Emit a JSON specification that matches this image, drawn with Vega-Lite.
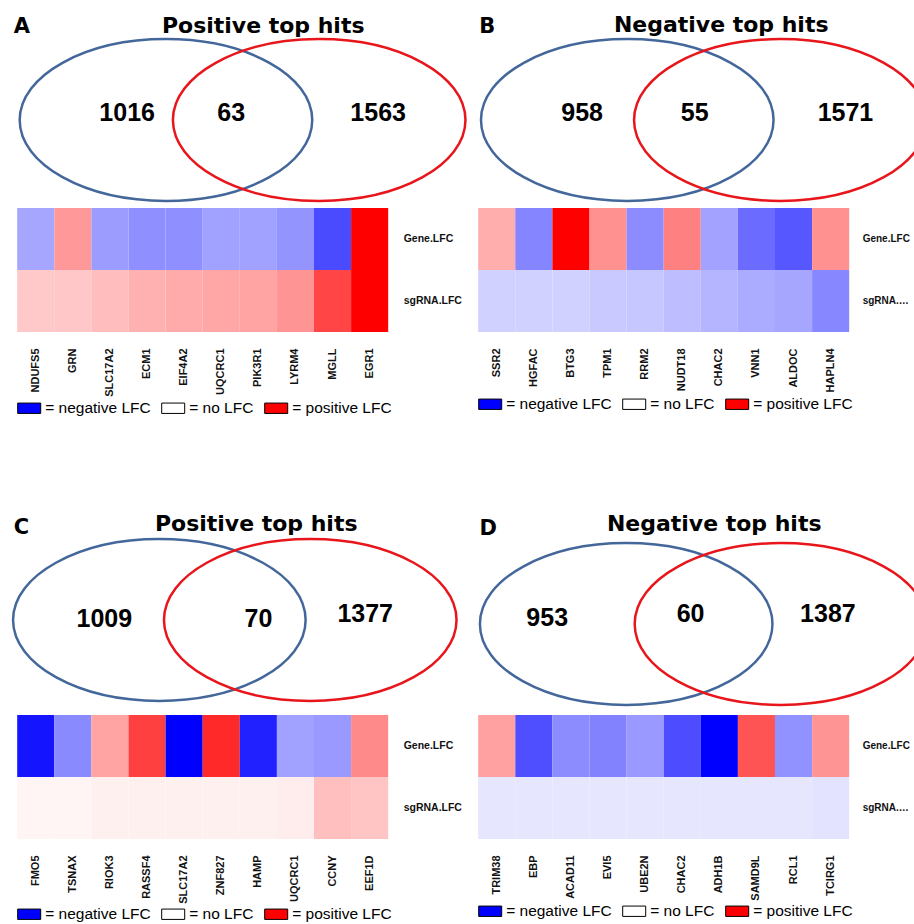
{
  "$schema": "https://vega.github.io/schema/vega-lite/v6.json",
  "background": "white",
  "padding": {"top": 0, "left": 7.2, "right": 0, "bottom": 0},
  "config": {
    "view": {"stroke": null},
    "font": "Liberation Sans",
    "title": {"font": "DejaVu Sans", "fontWeight": "bold", "color": "#000", "baseline": "bottom", "fontSize": 22, "anchor": "middle", "frame": "group"},
    "axis": {"labelFont": "Liberation Sans", "labelFontWeight": "bold", "labelColor": "#111", "ticks": false, "tickSize": 0, "domain": false, "grid": false, "title": null, "labelOverlap": false, "titleFont": "DejaVu Sans", "titleFontSize": 21, "titleFontWeight": "bold", "titleColor": "#000"},
    "legend": {"labelFont": "Liberation Sans"}
  },
  "datasets": {
    "vennSets": [
      {"panel": "A", "set": "Set 1", "x": 0.966, "y": 0.4118},
      {"panel": "A", "set": "Set 2", "x": 1.961, "y": 0.4118},
      {"panel": "B", "set": "Set 1", "x": 0.968, "y": 0.4118},
      {"panel": "B", "set": "Set 2", "x": 1.962, "y": 0.4118},
      {"panel": "C", "set": "Set 1", "x": 0.923, "y": 0.2417},
      {"panel": "C", "set": "Set 2", "x": 1.903, "y": 0.2417},
      {"panel": "D", "set": "Set 1", "x": 0.961, "y": 0.231},
      {"panel": "D", "set": "Set 2", "x": 1.966, "y": 0.231}
    ],
    "vennCounts": [
      {"panel": "A", "region": "Set 1 only", "count": 1016, "x": 0.714, "y": 0.4485},
      {"panel": "A", "region": "Both", "count": 63, "x": 1.390, "y": 0.4485},
      {"panel": "A", "region": "Set 2 only", "count": 1563, "x": 2.344, "y": 0.4485},
      {"panel": "B", "region": "Set 1 only", "count": 958, "x": 0.675, "y": 0.4485},
      {"panel": "B", "region": "Both", "count": 55, "x": 1.406, "y": 0.4485},
      {"panel": "B", "region": "Set 2 only", "count": 1571, "x": 2.385, "y": 0.4485},
      {"panel": "C", "region": "Set 1 only", "count": 1009, "x": 0.566, "y": 0.2443},
      {"panel": "C", "region": "Both", "count": 70, "x": 1.567, "y": 0.2443},
      {"panel": "C", "region": "Set 2 only", "count": 1377, "x": 2.26, "y": 0.2577},
      {"panel": "D", "region": "Set 1 only", "count": 953, "x": 0.448, "y": 0.2483},
      {"panel": "D", "region": "Both", "count": 60, "x": 1.379, "y": 0.2577},
      {"panel": "D", "region": "Set 2 only", "count": 1387, "x": 2.271, "y": 0.2577}
    ],
    "heat": [
      {"panel": "A", "gene": "NDUFS5", "metric": "Gene.LFC", "value": -0.35},
      {"panel": "A", "gene": "GRN", "metric": "Gene.LFC", "value": 0.4},
      {"panel": "A", "gene": "SLC17A2", "metric": "Gene.LFC", "value": -0.39},
      {"panel": "A", "gene": "ECM1", "metric": "Gene.LFC", "value": -0.44},
      {"panel": "A", "gene": "EIF4A2", "metric": "Gene.LFC", "value": -0.44},
      {"panel": "A", "gene": "UQCRC1", "metric": "Gene.LFC", "value": -0.37},
      {"panel": "A", "gene": "PIK3R1", "metric": "Gene.LFC", "value": -0.37},
      {"panel": "A", "gene": "LYRM4", "metric": "Gene.LFC", "value": -0.42},
      {"panel": "A", "gene": "MGLL", "metric": "Gene.LFC", "value": -0.71},
      {"panel": "A", "gene": "EGR1", "metric": "Gene.LFC", "value": 1.0},
      {"panel": "A", "gene": "NDUFS5", "metric": "sgRNA.LFC", "value": 0.21},
      {"panel": "A", "gene": "GRN", "metric": "sgRNA.LFC", "value": 0.22},
      {"panel": "A", "gene": "SLC17A2", "metric": "sgRNA.LFC", "value": 0.26},
      {"panel": "A", "gene": "ECM1", "metric": "sgRNA.LFC", "value": 0.31},
      {"panel": "A", "gene": "EIF4A2", "metric": "sgRNA.LFC", "value": 0.33},
      {"panel": "A", "gene": "UQCRC1", "metric": "sgRNA.LFC", "value": 0.35},
      {"panel": "A", "gene": "PIK3R1", "metric": "sgRNA.LFC", "value": 0.36},
      {"panel": "A", "gene": "LYRM4", "metric": "sgRNA.LFC", "value": 0.42},
      {"panel": "A", "gene": "MGLL", "metric": "sgRNA.LFC", "value": 0.73},
      {"panel": "A", "gene": "EGR1", "metric": "sgRNA.LFC", "value": 1.0},
      {"panel": "B", "gene": "SSR2", "metric": "Gene.LFC", "value": 0.32},
      {"panel": "B", "gene": "HGFAC", "metric": "Gene.LFC", "value": -0.48},
      {"panel": "B", "gene": "BTG3", "metric": "Gene.LFC", "value": 1.0},
      {"panel": "B", "gene": "TPM1", "metric": "Gene.LFC", "value": 0.43},
      {"panel": "B", "gene": "RRM2", "metric": "Gene.LFC", "value": -0.45},
      {"panel": "B", "gene": "NUDT18", "metric": "Gene.LFC", "value": 0.5},
      {"panel": "B", "gene": "CHAC2", "metric": "Gene.LFC", "value": -0.36},
      {"panel": "B", "gene": "VNN1", "metric": "Gene.LFC", "value": -0.58},
      {"panel": "B", "gene": "ALDOC", "metric": "Gene.LFC", "value": -0.66},
      {"panel": "B", "gene": "HAPLN4", "metric": "Gene.LFC", "value": 0.43},
      {"panel": "B", "gene": "SSR2", "metric": "sgRNA.LFC", "value": -0.18},
      {"panel": "B", "gene": "HGFAC", "metric": "sgRNA.LFC", "value": -0.18},
      {"panel": "B", "gene": "BTG3", "metric": "sgRNA.LFC", "value": -0.18},
      {"panel": "B", "gene": "TPM1", "metric": "sgRNA.LFC", "value": -0.21},
      {"panel": "B", "gene": "RRM2", "metric": "sgRNA.LFC", "value": -0.22},
      {"panel": "B", "gene": "NUDT18", "metric": "sgRNA.LFC", "value": -0.26},
      {"panel": "B", "gene": "CHAC2", "metric": "sgRNA.LFC", "value": -0.29},
      {"panel": "B", "gene": "VNN1", "metric": "sgRNA.LFC", "value": -0.33},
      {"panel": "B", "gene": "ALDOC", "metric": "sgRNA.LFC", "value": -0.35},
      {"panel": "B", "gene": "HAPLN4", "metric": "sgRNA.LFC", "value": -0.47},
      {"panel": "C", "gene": "FMO5", "metric": "Gene.LFC", "value": -0.92},
      {"panel": "C", "gene": "TSNAX", "metric": "Gene.LFC", "value": -0.46},
      {"panel": "C", "gene": "RIOK3", "metric": "Gene.LFC", "value": 0.36},
      {"panel": "C", "gene": "RASSF4", "metric": "Gene.LFC", "value": 0.75},
      {"panel": "C", "gene": "SLC17A2", "metric": "Gene.LFC", "value": -1.0},
      {"panel": "C", "gene": "ZNF827", "metric": "Gene.LFC", "value": 0.84},
      {"panel": "C", "gene": "HAMP", "metric": "Gene.LFC", "value": -0.87},
      {"panel": "C", "gene": "UQCRC1", "metric": "Gene.LFC", "value": -0.37},
      {"panel": "C", "gene": "CCNY", "metric": "Gene.LFC", "value": -0.4},
      {"panel": "C", "gene": "EEF1D", "metric": "Gene.LFC", "value": 0.46},
      {"panel": "C", "gene": "FMO5", "metric": "sgRNA.LFC", "value": 0.04},
      {"panel": "C", "gene": "TSNAX", "metric": "sgRNA.LFC", "value": 0.04},
      {"panel": "C", "gene": "RIOK3", "metric": "sgRNA.LFC", "value": 0.06},
      {"panel": "C", "gene": "RASSF4", "metric": "sgRNA.LFC", "value": 0.06},
      {"panel": "C", "gene": "SLC17A2", "metric": "sgRNA.LFC", "value": 0.06},
      {"panel": "C", "gene": "ZNF827", "metric": "sgRNA.LFC", "value": 0.06},
      {"panel": "C", "gene": "HAMP", "metric": "sgRNA.LFC", "value": 0.06},
      {"panel": "C", "gene": "UQCRC1", "metric": "sgRNA.LFC", "value": 0.07},
      {"panel": "C", "gene": "CCNY", "metric": "sgRNA.LFC", "value": 0.25},
      {"panel": "C", "gene": "EEF1D", "metric": "sgRNA.LFC", "value": 0.23},
      {"panel": "D", "gene": "TRIM38", "metric": "Gene.LFC", "value": 0.37},
      {"panel": "D", "gene": "EBP", "metric": "Gene.LFC", "value": -0.69},
      {"panel": "D", "gene": "ACAD11", "metric": "Gene.LFC", "value": -0.45},
      {"panel": "D", "gene": "EVI5", "metric": "Gene.LFC", "value": -0.49},
      {"panel": "D", "gene": "UBE2N", "metric": "Gene.LFC", "value": -0.4},
      {"panel": "D", "gene": "CHAC2", "metric": "Gene.LFC", "value": -0.7},
      {"panel": "D", "gene": "ADH1B", "metric": "Gene.LFC", "value": -1.0},
      {"panel": "D", "gene": "SAMD9L", "metric": "Gene.LFC", "value": 0.67},
      {"panel": "D", "gene": "RCL1", "metric": "Gene.LFC", "value": -0.43},
      {"panel": "D", "gene": "TCIRG1", "metric": "Gene.LFC", "value": 0.42},
      {"panel": "D", "gene": "TRIM38", "metric": "sgRNA.LFC", "value": -0.1},
      {"panel": "D", "gene": "EBP", "metric": "sgRNA.LFC", "value": -0.1},
      {"panel": "D", "gene": "ACAD11", "metric": "sgRNA.LFC", "value": -0.1},
      {"panel": "D", "gene": "EVI5", "metric": "sgRNA.LFC", "value": -0.1},
      {"panel": "D", "gene": "UBE2N", "metric": "sgRNA.LFC", "value": -0.1},
      {"panel": "D", "gene": "CHAC2", "metric": "sgRNA.LFC", "value": -0.1},
      {"panel": "D", "gene": "ADH1B", "metric": "sgRNA.LFC", "value": -0.1},
      {"panel": "D", "gene": "SAMD9L", "metric": "sgRNA.LFC", "value": -0.1},
      {"panel": "D", "gene": "RCL1", "metric": "sgRNA.LFC", "value": -0.1},
      {"panel": "D", "gene": "TCIRG1", "metric": "sgRNA.LFC", "value": -0.11}
    ],
    "legendKeys": [
      {"key": "= negative LFC"},
      {"key": "= no LFC"},
      {"key": "= positive LFC"}
    ]
  },
  "columns": 2,
  "align": "each",
  "bounds": "flush",
  "spacing": {"row": 4, "column": 90},
  "concat": [
    {
      "width": 371, "height": 204,
      "title": {"text": "Positive top hits", "offset": -59.7, "dx": 60.5, "baseline": "bottom"},
      "encoding": {
        "x": {"field": "x", "type": "quantitative", "scale": {"domain": [0, 2.4091], "nice": false, "zero": false}, "axis": null},
        "y": {"field": "y", "type": "quantitative", "scale": {"domain": [0, 1], "nice": false, "zero": false}, "axis": {"orient": "left", "labels": false, "title": "A", "titleAngle": 0, "titleAlign": "left", "titleBaseline": "alphabetic", "titleX": -4, "titleY": 32}}
      },
      "layer": [
        {
          "data": {"name": "vennSets"},
          "transform": [{"filter": "datum.panel === 'A'"}],
          "mark": {"type": "point", "shape": "M-1,0A1,0.553 0 1,0 1,0A1,0.553 0 1,0 -1,0Z", "size": 85600, "filled": false, "strokeWidth": 2.5, "opacity": 1},
          "encoding": {"color": {"field": "set", "type": "nominal", "scale": {"domain": ["Set 1", "Set 2"], "range": ["#44679b", "#e8151b"]}, "legend": null}}
        },
        {
          "data": {"name": "vennCounts"},
          "transform": [{"filter": "datum.panel === 'A'"}],
          "mark": {"type": "text", "fontSize": 25, "fontWeight": "bold", "font": "Liberation Sans", "baseline": "middle", "align": "center", "color": "#000"},
          "encoding": {"text": {"field": "count", "type": "quantitative", "format": "d"}}
        }
      ]
    },
    {
      "width": 436, "height": 204,
      "title": {"text": "Negative top hits", "offset": -58.7, "dx": 25, "baseline": "bottom"},
      "encoding": {
        "x": {"field": "x", "type": "quantitative", "scale": {"domain": [0, 2.8312], "nice": false, "zero": false}, "axis": null},
        "y": {"field": "y", "type": "quantitative", "scale": {"domain": [0, 1], "nice": false, "zero": false}, "axis": {"orient": "left", "labels": false, "title": "B", "titleAngle": 0, "titleAlign": "left", "titleBaseline": "alphabetic", "titleX": 0.5, "titleY": 32.3}}
      },
      "layer": [
        {
          "data": {"name": "vennSets"},
          "transform": [{"filter": "datum.panel === 'B'"}],
          "mark": {"type": "point", "shape": "M-1,0A1,0.553 0 1,0 1,0A1,0.553 0 1,0 -1,0Z", "size": 85600, "filled": false, "strokeWidth": 2.5, "opacity": 1, "clip": true},
          "encoding": {"color": {"field": "set", "type": "nominal", "scale": {"domain": ["Set 1", "Set 2"], "range": ["#44679b", "#e8151b"]}, "legend": null}}
        },
        {
          "data": {"name": "vennCounts"},
          "transform": [{"filter": "datum.panel === 'B'"}],
          "mark": {"type": "text", "fontSize": 25, "fontWeight": "bold", "font": "Liberation Sans", "baseline": "middle", "align": "center", "color": "#000"},
          "encoding": {"text": {"field": "count", "type": "quantitative", "format": "d"}}
        }
      ]
    },
    {
      "width": 371, "height": 124,
      "layer": [
        {
          "data": {"name": "heat"},
          "transform": [{"filter": "datum.panel === 'A'"}],
          "mark": {"type": "rect"},
          "encoding": {
            "x": {"field": "gene", "type": "nominal", "sort": null, "axis": {"orient": "bottom", "labelAngle": -90, "labelFontSize": 11, "labelPadding": 16}},
            "y": {"field": "metric", "type": "nominal", "sort": ["Gene.LFC", "sgRNA.LFC"], "axis": {"orient": "right", "labelFontSize": 10.5, "labelPadding": 15}},
            "color": {"field": "value", "type": "quantitative", "scale": {"domain": [-1, 0, 1], "range": ["#0000ff", "#ffffff", "#ff0000"], "interpolate": "rgb"}, "legend": null}
          }
        },
        {
          "data": {"name": "legendKeys"},
          "mark": {"type": "point", "filled": true, "opacity": 0},
          "encoding": {
            "color": {"field": "key", "type": "nominal", "sort": null, "scale": {"domain": ["= negative LFC", "= no LFC", "= positive LFC"], "range": ["#0000ff", "#ffffff", "#ff0000"]},
              "legend": {"orient": "bottom", "direction": "horizontal", "title": null, "offset": -1, "padding": 0, "symbolType": "M-1,-0.45H1V0.45H-1Z", "symbolSize": 529, "symbolStrokeWidth": 1, "symbolStrokeColor": "#000", "labelFontSize": 15.5, "labelColor": "#000", "labelOffset": 4, "columnPadding": 8, "labelLimit": 200,
                "encode": {"symbols": {"update": {"stroke": {"value": "#000"}, "strokeWidth": {"value": 1}, "opacity": {"value": 1}, "fillOpacity": {"value": 1}}}}}
            }
          }
        }
      ],
      "resolve": {"scale": {"color": "independent"}}
    },
    {
      "width": 371, "height": 124,
      "layer": [
        {
          "data": {"name": "heat"},
          "transform": [{"filter": "datum.panel === 'B'"}],
          "mark": {"type": "rect"},
          "encoding": {
            "x": {"field": "gene", "type": "nominal", "sort": null, "axis": {"orient": "bottom", "labelAngle": -90, "labelFontSize": 11, "labelPadding": 16}},
            "y": {"field": "metric", "type": "nominal", "sort": ["Gene.LFC", "sgRNA.LFC"], "axis": {"orient": "right", "labelFontSize": 10, "labelPadding": 13, "labelLimit": 52}},
            "color": {"field": "value", "type": "quantitative", "scale": {"domain": [-1, 0, 1], "range": ["#0000ff", "#ffffff", "#ff0000"], "interpolate": "rgb"}, "legend": null}
          }
        },
        {
          "data": {"name": "legendKeys"},
          "mark": {"type": "point", "filled": true, "opacity": 0},
          "encoding": {
            "color": {"field": "key", "type": "nominal", "sort": null, "scale": {"domain": ["= negative LFC", "= no LFC", "= positive LFC"], "range": ["#0000ff", "#ffffff", "#ff0000"]},
              "legend": {"orient": "bottom", "direction": "horizontal", "title": null, "offset": -1, "padding": 0, "symbolType": "M-1,-0.45H1V0.45H-1Z", "symbolSize": 529, "symbolStrokeWidth": 1, "symbolStrokeColor": "#000", "labelFontSize": 15.5, "labelColor": "#000", "labelOffset": 4, "columnPadding": 8, "labelLimit": 200,
                "encode": {"symbols": {"update": {"stroke": {"value": "#000"}, "strokeWidth": {"value": 1}, "opacity": {"value": 1}, "fillOpacity": {"value": 1}}}}}
            }
          }
        }
      ],
      "resolve": {"scale": {"color": "independent"}}
    },
    {
      "width": 371, "height": 374.5,
      "title": {"text": "Positive top hits", "offset": -222.2, "dx": 53.5, "baseline": "bottom"},
      "encoding": {
        "x": {"field": "x", "type": "quantitative", "scale": {"domain": [0, 2.4091], "nice": false, "zero": false}, "axis": null},
        "y": {"field": "y", "type": "quantitative", "scale": {"domain": [0, 1], "nice": false, "zero": false}, "axis": {"orient": "left", "labels": false, "title": "C", "titleAngle": 0, "titleAlign": "left", "titleBaseline": "alphabetic", "titleX": -4, "titleY": 198}}
      },
      "layer": [
        {
          "data": {"name": "vennSets"},
          "transform": [{"filter": "datum.panel === 'C'"}],
          "mark": {"type": "point", "shape": "M-1,0A1,0.553 0 1,0 1,0A1,0.553 0 1,0 -1,0Z", "size": 85600, "filled": false, "strokeWidth": 2.5, "opacity": 1},
          "encoding": {"color": {"field": "set", "type": "nominal", "scale": {"domain": ["Set 1", "Set 2"], "range": ["#44679b", "#e8151b"]}, "legend": null}}
        },
        {
          "data": {"name": "vennCounts"},
          "transform": [{"filter": "datum.panel === 'C'"}],
          "mark": {"type": "text", "fontSize": 25, "fontWeight": "bold", "font": "Liberation Sans", "baseline": "middle", "align": "center", "color": "#000"},
          "encoding": {"text": {"field": "count", "type": "quantitative", "format": "d"}}
        }
      ]
    },
    {
      "width": 436, "height": 374.5,
      "title": {"text": "Negative top hits", "offset": -222.2, "dx": 18, "baseline": "bottom"},
      "encoding": {
        "x": {"field": "x", "type": "quantitative", "scale": {"domain": [0, 2.8312], "nice": false, "zero": false}, "axis": null},
        "y": {"field": "y", "type": "quantitative", "scale": {"domain": [0, 1], "nice": false, "zero": false}, "axis": {"orient": "left", "labels": false, "title": "D", "titleAngle": 0, "titleAlign": "left", "titleBaseline": "alphabetic", "titleX": 0.7, "titleY": 198.3}}
      },
      "layer": [
        {
          "data": {"name": "vennSets"},
          "transform": [{"filter": "datum.panel === 'D'"}],
          "mark": {"type": "point", "shape": "M-1,0A1,0.553 0 1,0 1,0A1,0.553 0 1,0 -1,0Z", "size": 85600, "filled": false, "strokeWidth": 2.5, "opacity": 1, "clip": true},
          "encoding": {"color": {"field": "set", "type": "nominal", "scale": {"domain": ["Set 1", "Set 2"], "range": ["#44679b", "#e8151b"]}, "legend": null}}
        },
        {
          "data": {"name": "vennCounts"},
          "transform": [{"filter": "datum.panel === 'D'"}],
          "mark": {"type": "text", "fontSize": 25, "fontWeight": "bold", "font": "Liberation Sans", "baseline": "middle", "align": "center", "color": "#000"},
          "encoding": {"text": {"field": "count", "type": "quantitative", "format": "d"}}
        }
      ]
    },
    {
      "width": 371, "height": 124,
      "layer": [
        {
          "data": {"name": "heat"},
          "transform": [{"filter": "datum.panel === 'C'"}],
          "mark": {"type": "rect"},
          "encoding": {
            "x": {"field": "gene", "type": "nominal", "sort": null, "axis": {"orient": "bottom", "labelAngle": -90, "labelFontSize": 11, "labelPadding": 16}},
            "y": {"field": "metric", "type": "nominal", "sort": ["Gene.LFC", "sgRNA.LFC"], "axis": {"orient": "right", "labelFontSize": 10.5, "labelPadding": 15}},
            "color": {"field": "value", "type": "quantitative", "scale": {"domain": [-1, 0, 1], "range": ["#0000ff", "#ffffff", "#ff0000"], "interpolate": "rgb"}, "legend": null}
          }
        },
        {
          "data": {"name": "legendKeys"},
          "mark": {"type": "point", "filled": true, "opacity": 0},
          "encoding": {
            "color": {"field": "key", "type": "nominal", "sort": null, "scale": {"domain": ["= negative LFC", "= no LFC", "= positive LFC"], "range": ["#0000ff", "#ffffff", "#ff0000"]},
              "legend": {"orient": "bottom", "direction": "horizontal", "title": null, "offset": -2, "padding": 0, "symbolType": "M-1,-0.45H1V0.45H-1Z", "symbolSize": 529, "symbolStrokeWidth": 1, "symbolStrokeColor": "#000", "labelFontSize": 15.5, "labelColor": "#000", "labelOffset": 4, "columnPadding": 8, "labelLimit": 200,
                "encode": {"symbols": {"update": {"stroke": {"value": "#000"}, "strokeWidth": {"value": 1}, "opacity": {"value": 1}, "fillOpacity": {"value": 1}}}}}
            }
          }
        }
      ],
      "resolve": {"scale": {"color": "independent"}}
    },
    {
      "width": 371, "height": 124,
      "layer": [
        {
          "data": {"name": "heat"},
          "transform": [{"filter": "datum.panel === 'D'"}],
          "mark": {"type": "rect"},
          "encoding": {
            "x": {"field": "gene", "type": "nominal", "sort": null, "axis": {"orient": "bottom", "labelAngle": -90, "labelFontSize": 11, "labelPadding": 16}},
            "y": {"field": "metric", "type": "nominal", "sort": ["Gene.LFC", "sgRNA.LFC"], "axis": {"orient": "right", "labelFontSize": 10, "labelPadding": 13, "labelLimit": 52}},
            "color": {"field": "value", "type": "quantitative", "scale": {"domain": [-1, 0, 1], "range": ["#0000ff", "#ffffff", "#ff0000"], "interpolate": "rgb"}, "legend": null}
          }
        },
        {
          "data": {"name": "legendKeys"},
          "mark": {"type": "point", "filled": true, "opacity": 0},
          "encoding": {
            "color": {"field": "key", "type": "nominal", "sort": null, "scale": {"domain": ["= negative LFC", "= no LFC", "= positive LFC"], "range": ["#0000ff", "#ffffff", "#ff0000"]},
              "legend": {"orient": "bottom", "direction": "horizontal", "title": null, "offset": -2, "padding": 0, "symbolType": "M-1,-0.45H1V0.45H-1Z", "symbolSize": 529, "symbolStrokeWidth": 1, "symbolStrokeColor": "#000", "labelFontSize": 15.5, "labelColor": "#000", "labelOffset": 4, "columnPadding": 8, "labelLimit": 200,
                "encode": {"symbols": {"update": {"stroke": {"value": "#000"}, "strokeWidth": {"value": 1}, "opacity": {"value": 1}, "fillOpacity": {"value": 1}}}}}
            }
          }
        }
      ],
      "resolve": {"scale": {"color": "independent"}}
    }
  ]
}
